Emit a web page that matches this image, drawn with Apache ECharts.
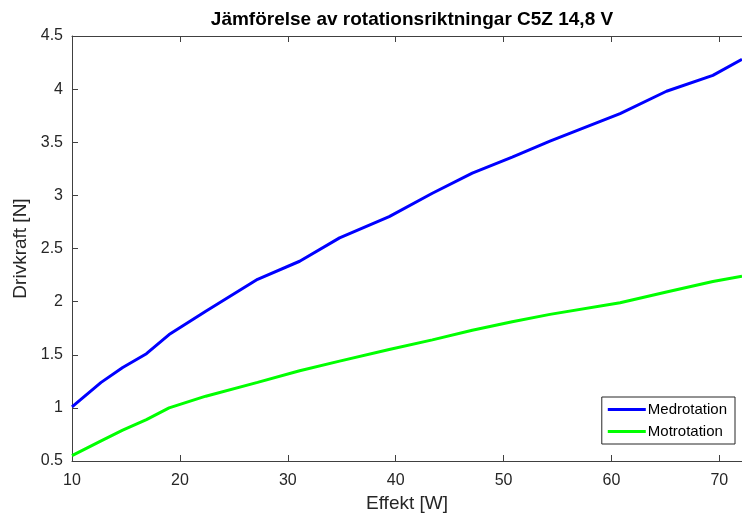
<!DOCTYPE html>
<html>
<head>
<meta charset="utf-8">
<script src="https://cdn.jsdelivr.net/npm/echarts@6/dist/echarts.min.js"></script>
<style>html,body{margin:0;padding:0;background:#fff}#c{width:742px;height:518px}</style>
</head>
<body>
<div id="c"></div>
<script>
const effekt = [10, 12.7, 14.7, 16.9, 19.0, 22.4, 27.2, 31.1, 34.8, 39.4, 43.4, 47.1, 50.8, 54.3, 60.8, 65.1, 69.4, 72.1];
const medrotation = [1.01, 1.24, 1.38, 1.51, 1.69, 1.91, 2.21, 2.38, 2.60, 2.80, 3.02, 3.21, 3.36, 3.51, 3.77, 3.98, 4.13, 4.28];
const motrotation = [0.55, 0.69, 0.79, 0.89, 1.00, 1.11, 1.24, 1.35, 1.44, 1.55, 1.64, 1.73, 1.81, 1.88, 1.99, 2.09, 2.19, 2.24];
const seriesNames = ['Medrotation', 'Motrotation'];
const titleText = 'Jämförelse av rotationsriktningar C5Z 14,8 V';
const xName = 'Effekt [W]';
const yName = 'Drivkraft [N]';

const font = 'Liberation Sans, Arial, Helvetica, sans-serif';
const axisCol = '#404040';
const pairs = (ys) => effekt.map((x, i) => [x, ys[i]]);

const chart = echarts.init(document.getElementById('c'), null, {renderer: 'canvas'});
chart.setOption({
  animation: false,
  backgroundColor: '#fff',
  title: {
    text: titleText, left: 407, textAlign: 'center', top: 5,
    textStyle: {fontFamily: font, fontSize: 19, fontWeight: 'bold', color: '#000'}
  },
  grid: {left: 72, top: 36, right: 0, bottom: 56, containLabel: false},
  legend: {
    right: 7, top: 397, orient: 'vertical', itemGap: 7,
    icon: 'rect', itemWidth: 38, itemHeight: 3,
    borderColor: '#262626', borderWidth: 1, backgroundColor: '#fff',
    padding: [5, 8, 5, 6],
    textStyle: {fontFamily: font, fontSize: 15, color: '#000', padding: [0, 0, 0, -3]},
    data: seriesNames
  },
  xAxis: [{
    type: 'value', min: 10, max: 72.1, interval: 10,
    name: xName, nameLocation: 'middle', nameGap: 33,
    nameTextStyle: {fontFamily: font, fontSize: 19, color: '#262626'},
    axisLine: {lineStyle: {color: axisCol, width: 1}},
    axisTick: {inside: true, length: 6, lineStyle: {color: axisCol}},
    axisLabel: {fontFamily: font, fontSize: 16, color: '#262626', margin: 12, showMaxLabel: false},
    splitLine: {show: false}
  }, {
    type: 'value', min: 10, max: 72.1, interval: 10, position: 'top',
    axisLine: {show: true, lineStyle: {color: axisCol, width: 1}},
    axisTick: {inside: true, length: 6, lineStyle: {color: axisCol}},
    axisLabel: {show: false},
    splitLine: {show: false}
  }],
  yAxis: {
    type: 'value', min: 0.5, max: 4.5, interval: 0.5,
    name: yName, nameLocation: 'middle', nameGap: 40, nameRotate: 90,
    nameTextStyle: {fontFamily: font, fontSize: 19, color: '#262626'},
    axisLine: {show: true, lineStyle: {color: axisCol, width: 1}},
    axisTick: {show: true, inside: true, length: 6, lineStyle: {color: axisCol}},
    axisLabel: {fontFamily: font, fontSize: 16, color: '#262626', margin: 9},
    splitLine: {show: false}
  },
  series: [{
    name: seriesNames[0], type: 'line', data: pairs(medrotation),
    symbol: 'none', lineStyle: {color: '#0000ff', width: 3}, itemStyle: {color: '#0000ff'}
  }, {
    name: seriesNames[1], type: 'line', data: pairs(motrotation),
    symbol: 'none', lineStyle: {color: '#00ff00', width: 3}, itemStyle: {color: '#00ff00'}
  }]
});
</script>
</body>
</html>
